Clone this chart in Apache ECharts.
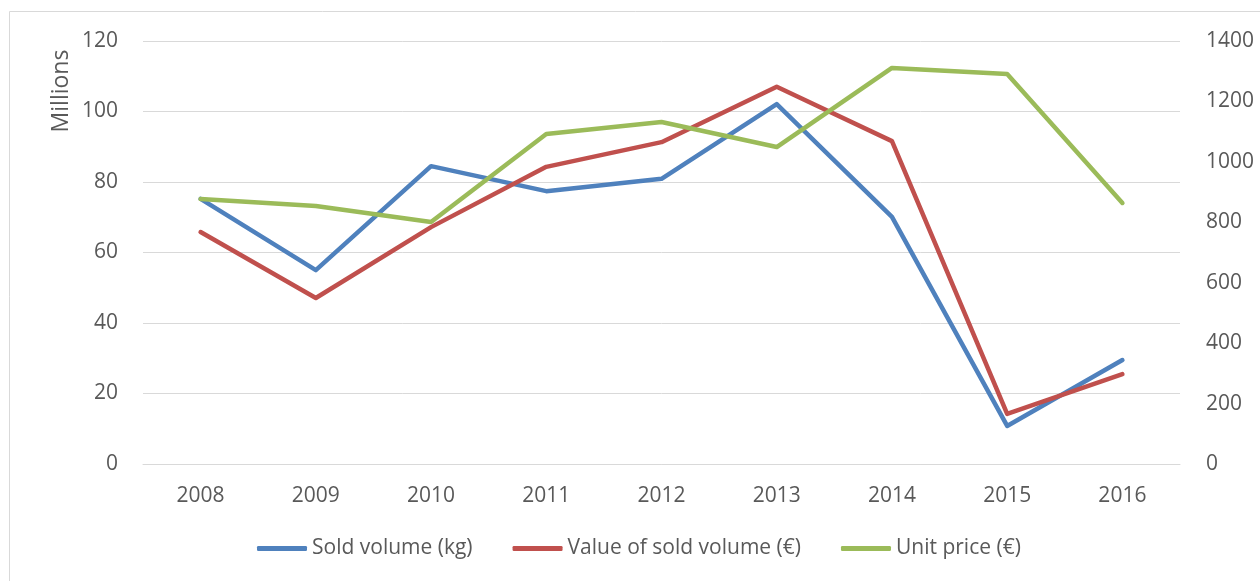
<!DOCTYPE html>
<html>
<head>
<meta charset="utf-8">
<script src="https://cdn.jsdelivr.net/npm/echarts@6/dist/echarts.min.js"></script>
<style>
  html, body { margin: 0; padding: 0; background: #fff; }
  #main { width: 1260px; height: 581px; }
</style>
</head>
<body>
<div id="main"></div>
<script>
var chartDom = document.getElementById("main");
var myChart = echarts.init(chartDom);
var option;

const years = ["2008", "2009", "2010", "2011", "2012", "2013", "2014", "2015", "2016"];
const soldVolume = [75.2, 55.0, 84.5, 77.4, 80.9, 102.1, 70.1, 10.8, 29.5];
const soldValue = [65.8, 47.1, 67.2, 84.3, 91.3, 107.0, 91.6, 14.2, 25.5];
const unitPrice = [877, 854, 801, 1092, 1132, 1049, 1311, 1291, 864];

const font = "'Open Sans', sans-serif";
const textColor = "#595959";
const gridColor = "#d9d9d9";

option = {
  animation: false,
  textStyle: { fontFamily: font },
  grid: { left: 143, right: 80, top: 41, bottom: 117 },
  graphic: [
    {
      type: "rect",
      shape: { x: 9.5, y: 11.5, width: 1270, height: 600 },
      style: { fill: "none", stroke: gridColor, lineWidth: 1 },
      silent: true
    },
    {
      type: "text",
      x: 61,
      y: 91,
      rotation: Math.PI / 2,
      style: {
        text: "Millions",
        font: "23px " + font,
        fill: textColor,
        textAlign: "center",
        textVerticalAlign: "middle"
      }
    }
  ],
  legend: {
    bottom: 17,
    left: 252,
    itemWidth: 50,
    itemHeight: 5,
    itemGap: 40,
    icon: "roundRect",
    textStyle: { fontSize: 21, color: textColor, fontFamily: font },
    data: ["Sold volume (kg)", "Value of sold volume (€)", "Unit price (€)"]
  },
  xAxis: {
    type: "category",
    data: years,
    boundaryGap: true,
    axisLine: { lineStyle: { color: gridColor, width: 1 } },
    axisTick: { show: false },
    axisLabel: { color: textColor, fontSize: 21, margin: 22, fontFamily: font }
  },
  yAxis: [
    {
      type: "value",
      min: 0,
      max: 120,
      interval: 20,
      axisLine: { show: false },
      axisTick: { show: false },
      axisLabel: { color: textColor, fontSize: 21, margin: 25, fontFamily: font },
      splitLine: { lineStyle: { color: gridColor, width: 1 } }
    },
    {
      type: "value",
      min: 0,
      max: 1400,
      interval: 200,
      axisLine: { show: false },
      axisTick: { show: false },
      axisLabel: {
        color: textColor,
        fontSize: 21,
        margin: 26,
        fontFamily: font,
        formatter: function (v) { return String(v); }
      },
      splitLine: { show: false }
    }
  ],
  series: [
    {
      name: "Sold volume (kg)",
      type: "line",
      data: soldVolume,
      yAxisIndex: 0,
      symbol: "none",
      lineStyle: { color: "#4f81bd", width: 4.5, cap: "round", join: "round" },
      itemStyle: { color: "#4f81bd" }
    },
    {
      name: "Value of sold volume (€)",
      type: "line",
      data: soldValue,
      yAxisIndex: 0,
      symbol: "none",
      lineStyle: { color: "#c0504d", width: 4.5, cap: "round", join: "round" },
      itemStyle: { color: "#c0504d" }
    },
    {
      name: "Unit price (€)",
      type: "line",
      data: unitPrice,
      yAxisIndex: 1,
      symbol: "none",
      lineStyle: { color: "#9bbb59", width: 4.5, cap: "round", join: "round" },
      itemStyle: { color: "#9bbb59" }
    }
  ]
};

option && myChart.setOption(option);
</script>
</body>
</html>
